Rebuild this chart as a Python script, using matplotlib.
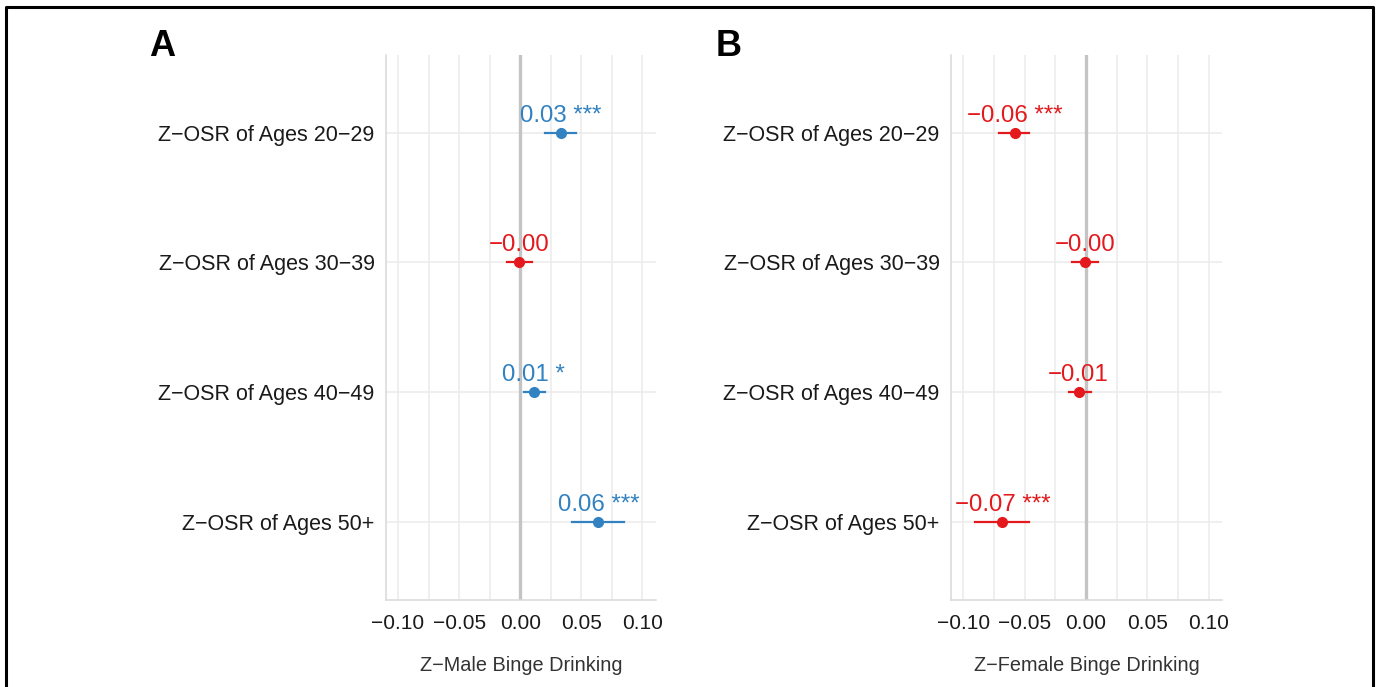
import numpy as np
import matplotlib.pyplot as plt
from matplotlib.lines import Line2D

plt.rcParams['font.family'] = ['Liberation Sans', 'DejaVu Sans']

rows = ['Z\u2212OSR of Ages 20\u221229', 'Z\u2212OSR of Ages 30\u221239',
        'Z\u2212OSR of Ages 40\u221249', 'Z\u2212OSR of Ages 50+']

male_est = [0.033, -0.001, 0.011, 0.064]
male_lo = [0.020, -0.011, 0.003, 0.042]
male_hi = [0.046, 0.010, 0.020, 0.085]
male_lab = ['0.03 ***', '\u22120.00', '0.01 *', '0.06 ***']

female_est = [-0.058, -0.001, -0.006, -0.068]
female_lo = [-0.071, -0.011, -0.014, -0.090]
female_hi = [-0.046, 0.010, 0.004, -0.046]
female_lab = ['\u22120.06 ***', '\u22120.00', '\u22120.01', '\u22120.07 ***']

blue = '#3282c1'
red = '#e3191d'

fig = plt.figure(figsize=(13.78, 6.87), dpi=100)
axA = fig.add_axes([0.280, 0.127, 0.196, 0.793])
axB = fig.add_axes([0.690, 0.127, 0.197, 0.793])

ticks = [-0.10, -0.05, 0.00, 0.05, 0.10]
ticklabs = ['\u22120.10', '\u22120.05', '0.00', '0.05', '0.10']

def panel(ax, est, lo, hi, lab, xlabel):
    y = np.arange(1, len(rows) + 1)
    ax.set_xlim(-0.11, 0.111)
    ax.set_ylim(4.6, 0.4)
    for g in np.arange(-0.1, 0.101, 0.025):
        ax.axvline(g, color='#ebebeb', lw=1.1, zorder=0)
    for yy in y:
        ax.axhline(yy, color='#ebebeb', lw=1.1, zorder=0)
    ax.axvline(0, color='#c4c4c4', lw=2.4, zorder=1)
    for i in range(len(rows)):
        c = blue if est[i] > 0 else red
        ax.plot([lo[i], hi[i]], [y[i], y[i]], color=c, lw=1.6, zorder=2)
        ax.plot(est[i], y[i], 'o', color=c, ms=7, zorder=3)
        ax.annotate(lab[i], (est[i], y[i]), xytext=(0, 8), textcoords='offset points',
                    ha='center', va='baseline', color=c, fontsize=17.3)
    ax.set_yticks(y)
    ax.set_yticklabels(rows, fontsize=15.5, color='#1a1a1a')
    ax.set_xticks(ticks)
    ax.set_xticklabels(ticklabs, fontsize=15, color='#1a1a1a')
    ax.tick_params(axis='y', length=0, pad=8)
    ax.tick_params(axis='x', length=0, pad=10)
    ax.set_xlabel(xlabel, fontsize=14.3, color='#333333', labelpad=17)
    for s in ['top', 'right']:
        ax.spines[s].set_visible(False)
    for s in ['left', 'bottom']:
        ax.spines[s].set_color('#d9d9d9')
        ax.spines[s].set_linewidth(1.1)

panel(axA, male_est, male_lo, male_hi, male_lab, 'Z\u2212Male Binge Drinking')
panel(axB, female_est, female_lo, female_hi, female_lab, 'Z\u2212Female Binge Drinking')

fig.text(0.108, 0.918, 'A', fontsize=26, fontweight='bold', va='baseline')
fig.text(0.519, 0.918, 'B', fontsize=26, fontweight='bold', va='baseline')

# frame round the figure, open at the bottom
x0, x1, yt = 5.5 / 1378, 1372.5 / 1378, 1 - 6.5 / 687
fig.add_artist(Line2D([x0, x0, x1, x1], [0, yt, yt, 0], color='black', lw=2.2,
                      transform=fig.transFigure))

fig.savefig('out.png', dpi=100)
